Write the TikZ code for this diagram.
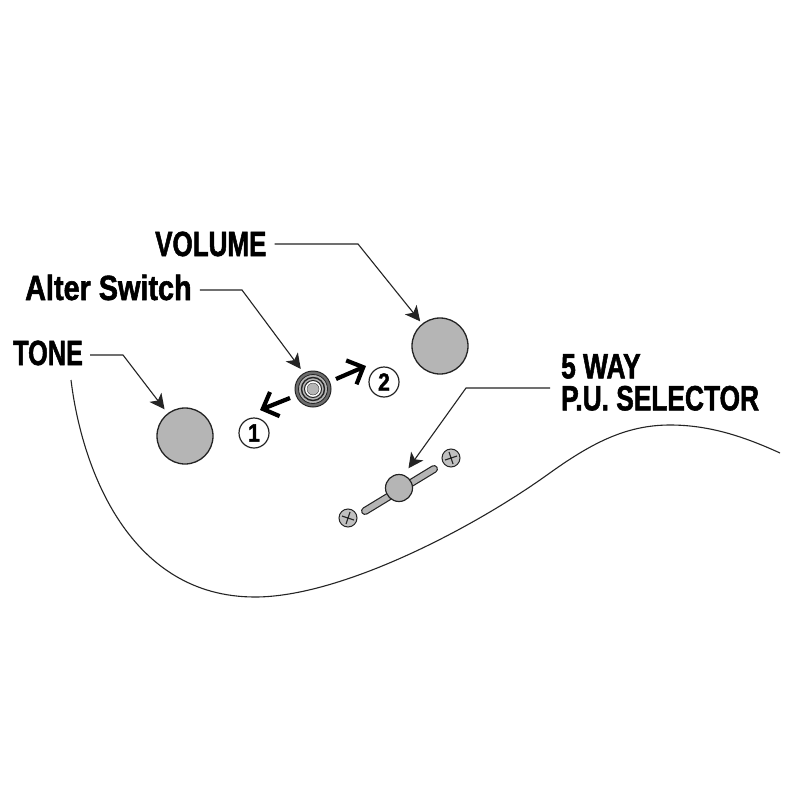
\documentclass[tikz,border=0pt]{standalone}
\usepackage{fontspec}
\usetikzlibrary{arrows.meta}
\setmainfont{Liberation Sans}[FakeStretch=0.84,BoldFeatures={FakeBold=1.6}]
\definecolor{knob}{gray}{0.71}
\definecolor{ink}{gray}{0.14}
\tikzset{
  x=1pt,y=-1pt,
  lab/.style={font=\fontsize{35}{32}\selectfont\bfseries,inner sep=0pt,text=black,align=left},
  leader/.style={draw=ink,line width=1.1pt,-{Stealth[length=15pt,width=15pt,inset=4pt]}},
  pot/.style={circle,draw=ink,fill=knob,line width=1.3pt,minimum size=56pt,inner sep=0pt},
  num/.style={circle,draw=ink,fill=white,line width=1.2pt,minimum size=30pt,inner sep=0pt,font=\fontsize{25}{25}\selectfont\bfseries},
  screw/.style={circle,draw=ink,fill=knob!85,line width=1pt,minimum size=18pt,inner sep=0pt},
  move/.style={draw=black,line width=4.2pt,-{Straight Barb[length=13pt,width=26pt,line width=4.2pt]}},
  body/.style={draw=ink,line width=1.1pt}
}
\begin{document}
\begin{tikzpicture}
\useasboundingbox (0,0) rectangle (800,800);
\fill[white] (0,0) rectangle (800,800);
% body outline
\draw[body] (71,380) .. controls (82,470) and (130,597) .. (255,597)
  .. controls (340,597) and (470,530) .. (547,475)
  .. controls (590,444) and (625,425) .. (670,425)
  .. controls (710,425) and (745,437) .. (780,453);
% controls
\node[pot] (volume) at (440,346) {};
\node[pot] (tone) at (185,436) {};
\coordinate (barA) at (365,511);
\coordinate (barB) at (434,469);
\draw[ink,line width=8pt,line cap=round] (barA) -- (barB);
\draw[knob,line width=5.6pt,line cap=round] (barA) -- (barB);
\node[circle,draw=ink,fill=knob,line width=1.2pt,minimum size=27pt,inner sep=0pt] (selector) at (399,488) {};
\node[screw] (screwA) at (348,518) {};
\node[screw] (screwB) at (451,458) {};
\draw[ink,line width=1.1pt] (342,516) -- (354,520) (350,512) -- (346,524);
\draw[ink,line width=1.1pt] (445,460) -- (457,456) (449,452) -- (453,464);
% alter switch
\node[circle,draw=ink,fill=knob!60!black,line width=1pt,minimum size=36pt,inner sep=0pt] (switch) at (313,389) {};
\node[circle,draw=ink,fill=knob,line width=.8pt,minimum size=29pt,inner sep=0pt] at (switch) {};
\node[circle,draw=ink,fill=knob,line width=1.4pt,minimum size=23pt,inner sep=0pt] at (switch) {};
\node[circle,draw=ink,fill=white,line width=1pt,minimum size=17pt,inner sep=0pt] at (switch) {};
\node[circle,draw=ink,fill=knob,line width=.3pt,minimum size=12pt,inner sep=0pt] at (switch) {};
% numbers
\node[num] (one) at (254,433) {1};
\node[num] (two) at (384,382) {2};
\coordinate (oneStart) at (290,398);
\coordinate (oneEnd) at (260,410);
\coordinate (twoStart) at (336,379);
\coordinate (twoEnd) at (366,366);
\draw[move] (oneStart) -- (oneEnd);
\draw[move] (twoStart) -- (twoEnd);
% labels
\node[lab,anchor=base west,xscale=.885] (lvolume) at (155,256) {VOLUME};
\node[lab,anchor=base west,xscale=.98] (lalter) at (25,300) {Alter Switch};
\node[lab,anchor=base west,xscale=.86] (ltone) at (13,365) {TONE};
\node[lab,anchor=north west,xscale=.895] (lway) at (561,354) {5 WAY\\P.U. SELECTOR};
% leaders
\coordinate (bendV) at (358,244);
\coordinate (bendA) at (242,290);
\coordinate (bendT) at (123,355);
\coordinate (bendW) at (466,388);
\draw[leader,shorten >=3pt] ([xshift=8pt]lvolume.east |- bendV) -- (bendV) -- (volume);
\draw[leader,shorten >=5pt] ([xshift=8pt]lalter.east |- bendA) -- (bendA) -- (switch.120);
\draw[leader,shorten >=5pt] ([xshift=7pt]ltone.east |- bendT) -- (bendT) -- (tone);
\draw[leader,shorten >=8pt] ([xshift=-11pt]lway.west |- bendW) -- (bendW) -- (selector.70);
\end{tikzpicture}
\end{document}
